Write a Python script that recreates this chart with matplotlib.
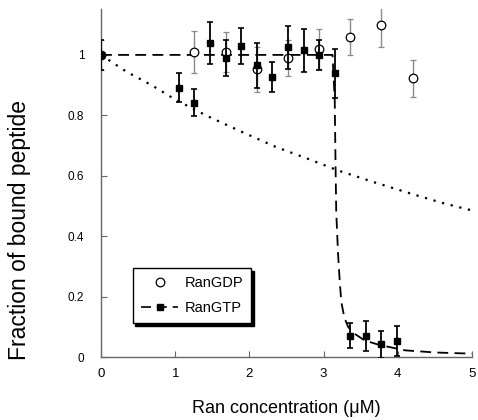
import matplotlib
matplotlib.use("Agg")
import matplotlib.pyplot as plt
from matplotlib.lines import Line2D

plt.rcParams['font.family'] = ['Liberation Sans', 'DejaVu Sans']

# RanGDP (open circles)
gdp_x = [0, 1.26, 1.68, 2.10, 2.52, 2.94, 3.36, 3.78, 4.20]
gdp_y = [1.00, 1.01, 1.01, 0.952, 0.99, 1.02, 1.06, 1.10, 0.922]
gdp_err = [0.05, 0.07, 0.065, 0.075, 0.06, 0.065, 0.06, 0.075, 0.06]

# RanGTP (filled squares)
gtp_x = [0, 1.05, 1.26, 1.47, 1.68, 1.89, 2.10, 2.31, 2.52, 2.73, 2.94, 3.15,
         3.36, 3.57, 3.78, 3.99]
gtp_y = [1.00, 0.892, 0.842, 1.04, 0.99, 1.03, 0.965, 0.926, 1.025, 1.015, 1.00,
         0.939, 0.071, 0.070, 0.042, 0.053]
gtp_err = [0.05, 0.048, 0.044, 0.07, 0.06, 0.06, 0.075, 0.05, 0.07, 0.07, 0.05,
           0.08, 0.04, 0.05, 0.045, 0.05]

# Fitted curves
gtp_fit_x = [0, 3.00, 3.12, 3.15, 3.16, 3.17, 3.195, 3.22, 3.24, 3.28, 3.33,
             3.40, 3.55, 3.75, 4.10, 4.50, 5.00]
gtp_fit_y = [1.0, 1.0, 1.0, 0.85, 0.65, 0.48, 0.34, 0.24, 0.18, 0.13, 0.10,
             0.08, 0.055, 0.04, 0.022, 0.015, 0.011]

gdp_fit_x = [0, 0.34, 0.68, 1.01, 1.43, 1.90, 2.35, 2.80, 3.20, 3.70, 4.20, 4.60, 5.00]
gdp_fit_y = [1.0, 0.945, 0.90, 0.851, 0.798, 0.745, 0.696, 0.655, 0.617, 0.577,
             0.539, 0.51, 0.485]

x_ticks = [0, 1, 2, 3, 4, 5]
y_ticks = [0, 0.2, 0.4, 0.6, 0.8, 1.0]
y_tick_labels = ['0', '0.2', '0.4', '0.6', '0.8', '1']

fig = plt.figure(figsize=(4.78, 4.20), dpi=100)
ax = fig.add_axes([0.2113, 0.15, 0.7762, 0.8286])

ax.plot(gdp_fit_x, gdp_fit_y, color='black', linestyle=(0, (1, 3)), lw=1.6,
        dash_capstyle='butt', zorder=2)
ax.plot(gtp_fit_x, gtp_fit_y, color='black', linestyle=(0, (6, 3.5)), lw=1.3,
        zorder=2)

ax.errorbar(gdp_x, gdp_y, yerr=gdp_err, fmt='o', ms=6.2, mfc='white', mec='black',
            mew=0.9, ecolor='#8a8a8a', elinewidth=1.0, capsize=2.2, capthick=1.0,
            zorder=3)
ax.errorbar(gtp_x, gtp_y, yerr=gtp_err, fmt='s', ms=5, mfc='black', mec='black',
            ecolor='black', elinewidth=1.3, capsize=2.2, capthick=1.2, zorder=4)

ax.set_xlim(0, 5)
ax.set_ylim(0, 1.152)
ax.set_xticks(x_ticks)
ax.set_yticks(y_ticks)
ax.set_yticklabels(y_tick_labels)
ax.tick_params(axis='x', direction='in', length=4, width=0.8, color='#666666',
               labelsize=9.5, pad=8)
ax.tick_params(axis='y', direction='in', length=4, width=0.8, color='#666666',
               labelsize=8.5, pad=12)
for s in ['top', 'right']:
    ax.spines[s].set_visible(False)
for s in ['left', 'bottom']:
    ax.spines[s].set_color('#666666')
    ax.spines[s].set_linewidth(1.0)

ax.set_xlabel('Ran concentration (\u03bcM)', fontsize=13, labelpad=14)
ax.set_ylabel('Fraction of bound peptide', fontsize=16.5)
ax.yaxis.set_label_coords(-0.19, 0.365)

h1 = Line2D([], [], marker='o', ls='none', ms=6.2, mfc='white', mec='black', mew=0.9)
h2 = Line2D([], [], marker='s', ls=(0, (6, 3.5)), lw=1.2, color='black', ms=5)
leg = ax.legend([h1, h2], ['RanGDP', 'RanGTP'], loc='upper left',
                bbox_to_anchor=(0.085, 0.255), borderaxespad=0,
                fontsize=10.5, handlelength=2.6, fancybox=False,
                shadow={'color': 'black', 'alpha': 1}, edgecolor='black',
                framealpha=1, borderpad=0.55, labelspacing=0.75,
                handletextpad=0.4)
leg.get_frame().set_linewidth(1.0)

fig.savefig('out.png', dpi=100)
